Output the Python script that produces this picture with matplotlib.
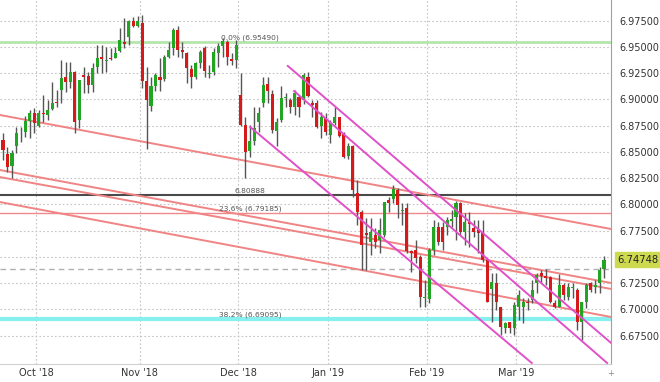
import numpy as np
import matplotlib
matplotlib.use('Agg')
import matplotlib.pyplot as plt

# daily USD/CNH candles (index 0 = first visible bar)
opens = [6.8680, 6.8614, 6.8481, 6.8366, 6.8557, 6.8677, 6.8693, 6.8795,
         6.8874, 6.8747, 6.8874, 6.8852, 6.8906, 6.8979, 6.9090, 6.9217,
         6.9169, 6.9265, 6.8804, 6.9233, 6.9223, 6.9138, 6.9306, 6.9408,
         6.9367, 6.9398, 6.9398, 6.9462, 6.9551, 6.9598, 6.9748, 6.9703,
         6.9725, 6.9176, 6.8941, 6.9129, 6.9217, 6.9195, 6.9408, 6.9494,
         6.9662, 6.9471, 6.9440, 6.9290, 6.9217, 6.9344, 6.9493, 6.9239,
         6.9265, 6.9439, 6.9512, 6.9550, 6.9385, 6.9376, 6.9042, 6.8757,
         6.8510, 6.8600, 6.8788, 6.8963, 6.9144, 6.9049, 6.8699, 6.8804,
         6.9011, 6.8995, 6.8931, 6.9026, 6.8995, 6.9217, 6.8970, 6.8963,
         6.8747, 6.8820, 6.8662, 6.8773, 6.8830, 6.8671, 6.8462, 6.8557,
         6.8106, 6.7932, 6.7725, 6.7646, 6.7709, 6.7661, 6.7709, 6.8042,
         6.8050, 6.8140, 6.7935, 6.7963, 6.7555, 6.7566, 6.7496, 6.7106,
         6.7096, 6.7566, 6.7788, 6.7782, 6.7788, 6.7845, 6.7884, 6.8011,
         6.7741, 6.7836, 6.7772, 6.7763, 6.7731, 6.7471, 6.7192, 6.7249,
         6.7026, 6.6820, 6.6884, 6.6820, 6.7026, 6.7026, 6.7074, 6.7090,
         6.7249, 6.7344, 6.7318, 6.7312, 6.7058, 6.7026, 6.7233, 6.7122,
         6.7201, 6.7185, 6.6884, 6.7074, 6.7249, 6.7217, 6.7249, 6.7382]
highs = [6.8760, 6.8677, 6.8550, 6.8519, 6.8741, 6.8741, 6.8843, 6.8900,
         6.8915, 6.8900, 6.9042, 6.8995, 6.9169, 6.9090, 6.9376, 6.9360,
         6.9360, 6.9270, 6.9185, 6.9312, 6.9265, 6.9344, 6.9519, 6.9519,
         6.9503, 6.9487, 6.9503, 6.9678, 6.9773, 6.9757, 6.9789, 6.9798,
         6.9805, 6.9313, 6.9217, 6.9249, 6.9392, 6.9424, 6.9551, 6.9684,
         6.9703, 6.9551, 6.9456, 6.9329, 6.9360, 6.9471, 6.9512, 6.9328,
         6.9487, 6.9534, 6.9582, 6.9566, 6.9439, 6.9566, 6.9249, 6.8836,
         6.8757, 6.8931, 6.8931, 6.9217, 6.9217, 6.9090, 6.8820, 6.9128,
         6.9058, 6.9017, 6.9090, 6.9042, 6.9249, 6.9265, 6.8995, 6.8995,
         6.8884, 6.8868, 6.8804, 6.8932, 6.8836, 6.8693, 6.8582, 6.8566,
         6.8233, 6.7947, 6.7868, 6.7868, 6.7772, 6.7868, 6.8027, 6.8074,
         6.8185, 6.8153, 6.8011, 6.8011, 6.7566, 6.7661, 6.7518, 6.7280,
         6.7582, 6.7852, 6.7836, 6.7836, 6.7884, 6.7947, 6.8036, 6.8026,
         6.7915, 6.7931, 6.7852, 6.7852, 6.7852, 6.7487, 6.7344, 6.7344,
         6.7026, 6.6884, 6.6884, 6.7074, 6.7185, 6.7106, 6.7106, 6.7280,
         6.7344, 6.7376, 6.7382, 6.7318, 6.7090, 6.7338, 6.7249, 6.7249,
         6.7249, 6.7201, 6.7074, 6.7249, 6.7265, 6.7280, 6.7407, 6.7509]
lows = [6.8580, 6.8423, 6.8312, 6.8249, 6.8487, 6.8598, 6.8646, 6.8630,
        6.8677, 6.8741, 6.8789, 6.8804, 6.8900, 6.8931, 6.8963, 6.9074,
        6.9106, 6.8677, 6.8725, 6.9058, 6.9058, 6.9074, 6.9249, 6.9249,
        6.9265, 6.9376, 6.9392, 6.9456, 6.9494, 6.9519, 6.9694, 6.9694,
        6.9106, 6.8529, 6.8890, 6.9081, 6.9081, 6.9176, 6.9392, 6.9424,
        6.9408, 6.9392, 6.9154, 6.9113, 6.9195, 6.9297, 6.9217, 6.9201,
        6.9233, 6.9312, 6.9407, 6.9328, 6.9328, 6.9296, 6.8750, 6.8249,
        6.8455, 6.8566, 6.8693, 6.8931, 6.8963, 6.8677, 6.8560, 6.8782,
        6.8931, 6.8868, 6.8852, 6.8836, 6.8953, 6.9026, 6.8836, 6.8725,
        6.8630, 6.8661, 6.8582, 6.8757, 6.8640, 6.8440, 6.8430, 6.8074,
        6.7805, 6.7376, 6.7376, 6.7519, 6.7582, 6.7535, 6.7693, 6.7931,
        6.8011, 6.7868, 6.7804, 6.7534, 6.7360, 6.7439, 6.7026, 6.7026,
        6.7058, 6.7518, 6.7614, 6.7566, 6.7709, 6.7788, 6.7661, 6.7709,
        6.7614, 6.7598, 6.7693, 6.7534, 6.7455, 6.7070, 6.6884, 6.6995,
        6.6757, 6.6772, 6.6772, 6.6757, 6.6899, 6.6868, 6.6995, 6.7058,
        6.7153, 6.7249, 6.7233, 6.7058, 6.7011, 6.7020, 6.7090, 6.7090,
        6.7106, 6.6804, 6.6709, 6.7011, 6.7169, 6.7153, 6.7160, 6.7296]
closes = [6.8620, 6.8519, 6.8360, 6.8487, 6.8684, 6.8684, 6.8795, 6.8874,
          6.8773, 6.8874, 6.8858, 6.8900, 6.8963, 6.8963, 6.9201, 6.9169,
          6.9265, 6.8789, 6.9185, 6.9217, 6.9138, 6.9296, 6.9392, 6.9382,
          6.9376, 6.9386, 6.9440, 6.9567, 6.9525, 6.9748, 6.9703, 6.9748,
          6.9176, 6.8995, 6.9129, 6.9233, 6.9186, 6.9408, 6.9471, 6.9662,
          6.9471, 6.9449, 6.9297, 6.9217, 6.9344, 6.9456, 6.9271, 6.9255,
          6.9455, 6.9512, 6.9557, 6.9407, 6.9366, 6.9518, 6.8757, 6.8503,
          6.8600, 6.8725, 6.8868, 6.9138, 6.9080, 6.8709, 6.8782, 6.9017,
          6.9026, 6.8931, 6.9058, 6.8931, 6.9233, 6.9030, 6.8947, 6.8741,
          6.8836, 6.8693, 6.8773, 6.8830, 6.8652, 6.8455, 6.8557, 6.8138,
          6.7932, 6.7614, 6.7710, 6.7740, 6.7646, 6.7757, 6.8027, 6.8011,
          6.8144, 6.7990, 6.7950, 6.7555, 6.7540, 6.7487, 6.7122, 6.7122,
          6.7566, 6.7788, 6.7645, 6.7645, 6.7852, 6.7858, 6.8017, 6.7741,
          6.7836, 6.7814, 6.7741, 6.7731, 6.7471, 6.7074, 6.7265, 6.7074,
          6.6836, 6.6868, 6.6820, 6.7042, 6.7138, 6.7074, 6.7058, 6.7185,
          6.7328, 6.7318, 6.7296, 6.7074, 6.7026, 6.7233, 6.7138, 6.7211,
          6.7217, 6.6884, 6.7074, 6.7233, 6.7185, 6.7233, 6.7376, 6.74748]

month_labels = ["Oct '18", "Nov '18", "Dec '18", "Jan '19", "Feb '19", "Mar '19"]
month_bar = [8.4, 31.5, 53.4, 73.4, 95.5, 115.4]

price_ticks = [6.675, 6.700, 6.725, 6.750, 6.775, 6.800, 6.825,
               6.850, 6.875, 6.900, 6.925, 6.950, 6.975]

fib_levels = [6.95490, 6.79185, 6.69095]
fib_names = ['0.0%', '23.6%', '38.2%']
pivot_level = 6.80888
last_price = 6.74748
prev_close = 6.7385

# trend lines (bar index, price) -> (bar index, price)
red_trends = [((0.3, 6.8852), (136.6, 6.7766)),
              ((0.3, 6.8328), (136.6, 6.7252)),
              ((0.3, 6.8261), (136.6, 6.7195)),
              ((0.3, 6.8023), (136.6, 6.6928))]
magenta_trends = [((64.5, 6.9319), (136.6, 6.6680)),
                  ((65.9, 6.9080), (135.7, 6.6490)),
                  ((56.1, 6.8738), (118.9, 6.6490))]

green_c = '#22a522'
red_c = '#d41a1a'

fig = plt.figure(figsize=(6.6, 3.82), dpi=100)
ax = fig.add_axes([0, 18 / 382, 611 / 660, 364 / 382])

o = np.array(opens)
h = np.array(highs)
l = np.array(lows)
c = np.array(closes)
x = np.arange(len(o))
up = c >= o

# grid
for yv in price_ticks:
    ax.axhline(yv, color='#c4c4c4', lw=0.8, ls=(0, (1.5, 2)), zorder=0)
for xv in month_bar:
    ax.axvline(xv, color='#c4c4c4', lw=0.8, ls=(0, (1.5, 2)), zorder=0)

# levels
ax.axhline(fib_levels[0], color='#b4e6ac', lw=2, zorder=1)
ax.axhline(pivot_level, color='#4a4a4a', lw=1.5, zorder=1)
ax.axhline(fib_levels[1], color='#f08a8a', lw=1, zorder=1)
ax.axhline(fib_levels[2], color='#86f0f0', lw=3, zorder=1)
ax.axhline(prev_close, color='#b0b0b0', lw=1, ls=(0, (4, 3)), zorder=1)

for (x0, y0), (x1, y1) in red_trends:
    ax.plot([x0, x1], [y0, y1], color='#f08484', lw=1.4, zorder=2)

# candles
ax.vlines(x, l, h, color='#555555', lw=1, zorder=3)
body = np.maximum(np.abs(c - o), 0.0008)
ax.bar(x, body, bottom=np.minimum(o, c), width=0.68,
       color=np.where(up, green_c, red_c), edgecolor='none', zorder=4)

for (x0, y0), (x1, y1) in magenta_trends:
    ax.plot([x0, x1], [y0, y1], color='#e050c8', lw=1.4, zorder=5)

# level labels
lab = dict(fontsize=5.4, color='#555555', ha='left', va='bottom', zorder=6)
ax.text(49.6, fib_levels[0] + 0.0012, '%s (%.5f)' % (fib_names[0], fib_levels[0]), **lab)
ax.text(52.7, pivot_level + 0.0012, '%.5f' % pivot_level, **lab)
ax.text(49.2, fib_levels[1] + 0.0012, '%s (%.5f)' % (fib_names[1], fib_levels[1]), **lab)
ax.text(49.2, fib_levels[2] + 0.0012, '%s (%.5f)' % (fib_names[2], fib_levels[2]), **lab)

ax.set_xlim(0.33, 136.56)
ax.set_ylim(6.64805, 6.99471)

ax.set_xticks(month_bar)
ax.set_xticklabels(month_labels)
ax.set_yticks(price_ticks)
# the 6.75000 label sits under the last price tag
ax.set_yticklabels(['' if abs(v - 6.75) < 1e-9 else '%.5f' % v for v in price_ticks])
ax.yaxis.tick_right()
ax.tick_params(axis='both', length=0, labelsize=7, labelcolor='#333333')
ax.tick_params(axis='y', pad=6)
ax.tick_params(axis='x', pad=3)

for s in ['top', 'left']:
    ax.spines[s].set_visible(False)
ax.spines['right'].set_color('#a0a0a0')
ax.spines['bottom'].set_color('#d0d0d0')

# last price tag
ax.annotate('%.5f' % last_price, xy=(1.0, last_price), xycoords=('axes fraction', 'data'),
            xytext=(4.2, 0), textcoords='offset points', fontsize=7.2, color='#222222',
            va='center', ha='left', annotation_clip=False,
            bbox=dict(boxstyle='square,pad=0.22', fc='#cdd94f', ec='#cdd94f'))

fig.text(611 / 660, 1 - 373 / 382, '+', fontsize=6, color='#888888', ha='center', va='center')

fig.savefig('out.png', dpi=100)
